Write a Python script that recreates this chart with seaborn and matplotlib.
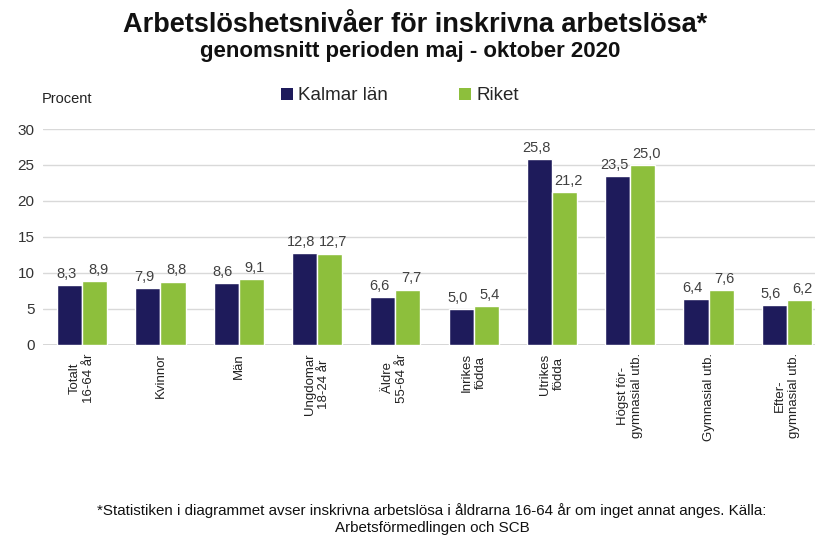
import matplotlib
matplotlib.use("Agg")
import matplotlib.pyplot as plt
import seaborn as sns
import pandas as pd
from matplotlib.patches import Patch

categories = ["Totalt\n16-64 år", "Kvinnor", "Män", "Ungdomar\n18-24 år", "Äldre\n55-64 år",
              "Inrikes\nfödda", "Utrikes\nfödda", "Högst för-\ngymnasial utb.",
              "Gymnasial utb.", "Efter-\ngymnasial utb."]
kalmar = [8.3, 7.9, 8.6, 12.8, 6.6, 5.0, 25.8, 23.5, 6.4, 5.6]
riket = [8.9, 8.8, 9.1, 12.7, 7.7, 5.4, 21.2, 25.0, 7.6, 6.2]
series = ["Kalmar län", "Riket"]
yticks = [0, 5, 10, 15, 20, 25, 30]

colors = {"Kalmar län": "#1E1B5B", "Riket": "#8DBF3C"}

df = pd.DataFrame({
    "kategori": categories * 2,
    "serie": [series[0]] * len(categories) + [series[1]] * len(categories),
    "värde": kalmar + riket,
})

sns.set_theme(style="white")
plt.rcParams["font.family"] = ["Liberation Sans", "DejaVu Sans"]

fig = plt.figure(figsize=(8.15, 5.36), dpi=100)
ax = fig.add_axes([43 / 815, 1 - 345 / 536, 783 / 815, 216 / 536])

sns.barplot(data=df, x="kategori", y="värde", hue="serie", palette=colors,
            width=0.64, gap=0, ax=ax, legend=False, saturation=1)

ax.set_ylim(0, 30)
ax.set_yticks(yticks)
ax.set_yticklabels([str(t) for t in yticks], fontsize=11, color="#333333")
ax.yaxis.grid(True, color="#D9D9D9", linewidth=1)
ax.set_axisbelow(True)
for s in ax.spines.values():
    s.set_visible(False)
ax.axhline(0, color="#D0D0D0", linewidth=1.2, zorder=0.5)
ax.set_xlabel("")
ax.set_ylabel("")
ax.tick_params(axis="both", length=0, pad=6)
ax.set_xticks(range(len(categories)))
ax.set_xticklabels(categories, rotation=90, ha="center", va="top",
                   multialignment="center", fontsize=9.5, color="#222222")

for k, cont in enumerate(ax.containers):
    labels = [f"{b.get_height():.1f}".replace(".", ",") for b in cont]
    texts = ax.bar_label(cont, labels=labels, padding=3, fontsize=10.5, color="#404040")
    for t in texts:
        t.set_position((-2.5 if k == 0 else 2.5, 3))

fig.text(415 / 815, 1 - 25 / 536, "Arbetslöshetsnivåer för inskrivna arbetslösa*",
         ha="center", va="center", fontsize=19.5, fontweight="bold", color="#111111")
fig.text(410 / 815, 1 - 51 / 536, "genomsnitt perioden maj - oktober 2020",
         ha="center", va="center", fontsize=16, fontweight="bold", color="#111111")
fig.text(42 / 815, 1 - 99 / 536, "Procent", ha="left", va="center",
         fontsize=10.5, color="#222222")

handles = [Patch(facecolor=colors[s], edgecolor="none") for s in series]
fig.legend(handles, series, loc="center", bbox_to_anchor=(400 / 815, 1 - 96 / 536),
           ncol=2, frameon=False, fontsize=13.5, handlelength=0.6, handleheight=0.6,
           handletextpad=0.3, columnspacing=3.8)

fig.text(432 / 815, 1 - 519 / 536,
         "*Statistiken i diagrammet avser inskrivna arbetslösa i åldrarna 16-64 år om inget annat anges. Källa:\nArbetsförmedlingen och SCB",
         ha="center", va="center", fontsize=10.9, color="#111111", linespacing=1.25)

fig.savefig("out.png", dpi=100)
